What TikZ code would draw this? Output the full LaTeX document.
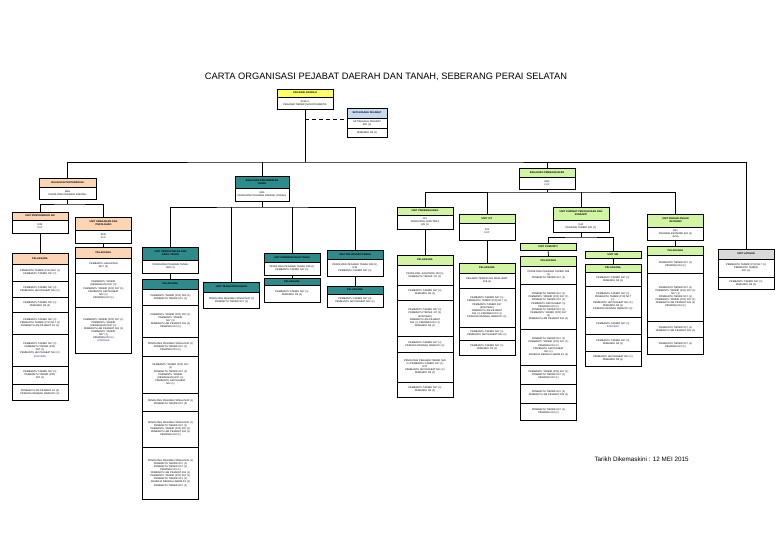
\documentclass[tikz,border=0pt]{standalone}
\usepackage{fontspec}
\setmainfont{Liberation Sans}
\usepackage{xcolor}
\usetikzlibrary{positioning}
\definecolor{kuning}{HTML}{FFFF66}
\definecolor{biru}{HTML}{C6DBF0}
\definecolor{jingga}{HTML}{FCD5B4}
\definecolor{teal}{HTML}{2E8B8B}
\definecolor{hijau}{HTML}{D2F5A3}
\definecolor{kelabu}{HTML}{D9D9D9}
\definecolor{navy}{HTML}{1F2A8A}
\tikzset{
  cell/.style={draw, line width=0.6pt, fill=white, minimum width=#1, text width=50pt, inner sep=0.4pt, outer sep=0pt, align=center, anchor=north, font=\fontsize{2.5}{3.1}\selectfont},
  cell/.default=56,
  head/.style={cell, fill=#1, font=\fontsize{2.5}{3.1}\selectfont\bfseries},
  line/.style={line width=0.7pt}
}
\begin{document}
\begin{tikzpicture}[x=1pt, y=-1pt]
\useasboundingbox (0,0) rectangle (780,540);
% tajuk
\node[font=\fontsize{9.3}{10}\selectfont] (tajuk) at (386,77) {CARTA ORGANISASI PEJABAT DAERAH DAN TANAH, SEBERANG  PERAI SELATAN};

% pegawai daerah
\node[head=kuning, minimum height=8] (pd) at (305,89) {PEGAWAI DAERAH};
\node[cell, minimum height=12, below=0pt of pd] (pdb) {JUSA C \\ PEGAWAI TADBIR DAN DIPLOMATIK};
\node[head=biru, minimum width=40, text width=36pt, minimum height=10] (sp) at (367,108) {SETIAUSAHA PEJABAT};
\node[cell=40, text width=36pt, minimum height=10, below=0pt of sp] (sp1) {SETIAUSAHA PEJABAT \\ N27 (1)};
\node[cell=40, text width=36pt, minimum height=9, below=0pt of sp1] (sp2) {PEMANDU R3 (1)};
\coordinate (sek) at (305,119);
\coordinate (bas) at (305,162);
\draw[line] (pdb.south) -- (bas);
\draw[line, dash pattern=on 4pt off 3pt] (sek) -- (sek -| sp.west);

% bahagian pentadbiran
\node[head=jingga, minimum width=57, minimum height=9] (ppt) at (67.5,178) {BAHAGIAN PENTADBIRAN};
\node[cell=57, minimum height=12, below=0pt of ppt] (pptb) {M48 \\ PENOLONG PEGAWAI DAERAH};
\node[head=jingga, minimum height=8] (o1) at (40,212) {UNIT PENTADBIRAN AM};
\node[cell, minimum height=13, below=0pt of o1] (o1b) {N32 \\ \textcolor{navy}{KUP}};
\node[head=jingga, minimum height=13] (o2) at (103.5,217) {UNIT KEWANGAN DAN \\ PEROLEHAN};
\node[cell, minimum height=13, below=0pt of o2] (o2b) {W32 \\ \textcolor{navy}{KUP}};
\coordinate (obas) at (67.5,204);
\draw[line] (pptb.south) -- (obas);
\draw[line] (o1.north) |- (obas) -| (o2.north);

\node[head=jingga, minimum height=11] (o1u) at (40,253) {PELAKSANA};
\node[cell, minimum height=17, below=0pt of o1u] (o1u1) {PEMBANTU TADBIR (P/O) N22 (1) \\ PEMBANTU TADBIR N17 (1)};
\node[cell, minimum height=16, below=0pt of o1u1] (o1u2) {PEMBANTU TADBIR N17 (2) \\ PEMBANTU AM PEJABAT N11 (1)};
\node[cell, minimum height=15, below=0pt of o1u2] (o1u3) {PEMBANTU TADBIR N17 (1) \\ PEMANDU R3 (2)};
\node[cell, minimum height=22, below=0pt of o1u3] (o1u4) {PEMBANTU TADBIR N17 (1) \\ PEMBANTU TADBIR (P/O) N17 (1) \\ PEMBANTU AM PEJABAT N1 (1)};
\node[cell, minimum height=32, below=0pt of o1u4] (o1u5) {PEMBANTU TADBIR N17 (1) \\ PEMBANTU TADBIR (P/O) \\ N17 (1) \\ PEMBANTU AM PEJABAT N11 (1) \\ \textcolor{navy}{KONTRAK}};
\node[cell, minimum height=18, below=0pt of o1u5] (o1u6) {PEMBANTU TADBIR N17 (1) \\ PEMBANTU TADBIR (P/O) \\ N17 (1)};
\node[cell, minimum height=16, below=0pt of o1u6] (o1u7) {PEMBANTU AM PEJABAT N1 (2) \\ PEKERJA RENDAH AWAM R1 (1)};
\draw[line] (o1b.south) -- (o1u.north);

\node[head=jingga, minimum height=11] (o2u) at (103.5,247) {PELAKSANA};
\node[cell, minimum height=15, below=0pt of o2u] (o2u1) {PEMBANTU AKAUNTAN \\ W17 (2)};
\node[cell, minimum height=34, below=0pt of o2u1] (o2u2) {PEMBANTU TADBIR \\ (KEWANGAN) W17 (2) \\ PEMBANTU TADBIR (P/O) N17 (1) \\ PEMBANTU AM PEJABAT \\ N11 (1) \\ PEMANDU R3 (1)};
\node[cell, minimum height=46, below=0pt of o2u2] (o2u3) {PEMBANTU TADBIR (P/O) N17 (1) \\ PEMBANTU TADBIR \\ (KEWANGAN) W17 (1) \\ PEMBANTU AM PEJABAT N11 (1) \\ PEMBANTU TADBIR \\ N17 (1) \\ PEMANDU R3 (1) \\ \textcolor{navy}{KONTRAK}};
\draw[line] (o2b.south) -- (o2u.north);

% bahagian tanah
\node[head=teal, minimum width=54, minimum height=12] (tk) at (262,176) {BAHAGIAN PENTADBIRAN \\ TANAH};
\node[cell=54, minimum height=13, below=0pt of tk] (tkb) {M44 \\ PENOLONG PEGAWAI DAERAH (TANAH)};
\coordinate (tbas) at (262,207);
\draw[line] (tkb.south) -- (tbas);

\node[head=teal, minimum height=13] (ta) at (170.5,247) {UNIT PENDAFTARAN DAN \\ HASIL TANAH};
\node[cell, minimum height=13, below=0pt of ta] (tab) {PENOLONG PEGAWAI TANAH \\ N32 (1)};
\node[head=teal, minimum height=10] (tau) at (170.5,279) {PELAKSANA};
\node[cell, minimum height=16, below=0pt of tau] (tau1) {PEMBANTU TADBIR (P/O) N22 (1) \\ PEMBANTU TADBIR N17 (1)};
\node[cell, minimum height=32, below=0pt of tau1] (tau2) {PEMBANTU TADBIR (P/O) N17 (1) \\ PEMBANTU TADBIR \\ N17 (2) \\ PEMBANTU AM PEJABAT N11 (1) \\ PEMANDU R3 (1)};
\node[cell, minimum height=19, below=0pt of tau2] (tau3) {PENOLONG PEGAWAI TANAH N29 (1) \\ PEMBANTU TADBIR N17 (1) \\ PEMANDU R3 (1)};
\node[cell, minimum height=37, below=0pt of tau3] (tau4) {PEMBANTU TADBIR (P/O) N17 \\ (1) \\ PEMBANTU TADBIR N17 (1) \\ PEMBANTU TADBIR \\ (KEWANGAN) W17 (1) \\ PEMBANTU AM PEJABAT \\ N11 (1)};
\node[cell, minimum height=18, below=0pt of tau4] (tau5) {PENOLONG PEGAWAI TANAH N29 (1) \\ PEMBANTU TADBIR N17 (2)};
\node[cell, minimum height=36, below=0pt of tau5] (tau6) {PENOLONG PEGAWAI TANAH N29 (1) \\ PEMBANTU TADBIR N17 (1) \\ PEMBANTU TADBIR (P/O) N17 (1) \\ PEMBANTU AM PEJABAT N11 (1) \\ PEMANDU R3 (1)};
\node[cell, minimum height=52, below=0pt of tau6] (tau7) {PENOLONG PEGAWAI TANAH N29 (1) \\ PEMBANTU TADBIR N17 (1) \\ PEMBANTU TADBIR N17 (1) \\ PEMANDU R3 (1) \\ PEMBANTU AM PEJABAT N11 (1) \\ PEMBANTU TADBIR (P/O) N17 (1) \\ PEMBANTU TADBIR N17 (1) \\ PEKERJA RENDAH AWAM R1 (1) \\ PEMBANTU TADBIR N17 (1)};
\draw[line] (tab.south) -- (tau.north);

\node[head=teal, minimum height=10] (tb) at (231.5,282) {UNIT PENGUATKUASAAN};
\node[cell, minimum height=16, below=0pt of tb] (tbb) {PENOLONG PEGAWAI TANAH N29 (1) \\ PEMBANTU TADBIR N17 (1)};

\node[head=teal, minimum height=9] (tc) at (292,253) {UNIT PEMBANGUNAN TANAH};
\node[cell, minimum height=13, below=0pt of tc] (tcb) {PENOLONG PEGAWAI TANAH N29 (1) \\ PEMBANTU TADBIR N17 (1)};
\node[head=teal, minimum height=7] (tcu) at (292,278) {PELAKSANA};
\node[cell, minimum height=17, below=0pt of tcu] (tcu1) {PEMBANTU TADBIR N17 (1) \\ PEMANDU R3 (1)};
\draw[line] (tcb.south) -- (tcu.north);

\node[head=teal, minimum height=9] (td) at (355,250) {UNIT PELUPUSAN TANAH};
\node[cell, minimum height=17, below=0pt of td] (tdb) {PENOLONG PEGAWAI TANAH N29 (1) \\ N32 \\ PEMBANTU TADBIR N17 (1)};
\node[head=teal, minimum height=8] (tdu) at (355,286) {PELAKSANA};
\node[cell, minimum height=13, below=0pt of tdu] (tdu1) {PEMBANTU TADBIR N17 (2) \\ PEMBANTU AM PEJABAT N11 (1)};
\draw[line] (tdb.south) -- (tdu.north);

\draw[line] (ta.north) |- (tbas) -| (td.north);
\draw[line] (tb.north) -- (tb.north |- tbas);
\draw[line] (tc.north) -- (tc.north |- tbas);

% bahagian pembangunan
\node[head=hijau, minimum height=9] (gk) at (547,168) {BAHAGIAN PEMBANGUNAN};
\node[cell, minimum height=12, below=0pt of gk] (gkb) {M44 \\ \textcolor{navy}{KUP}};
\coordinate (gbas) at (547,192);
\draw[line] (gkb.south) -- (gbas);

\node[head=hijau, minimum height=8] (g1) at (425,207) {UNIT PEMBANGUNAN};
\node[cell, minimum height=14, below=0pt of g1] (g1b) {J41 \\ PENOLONG JURUTERA \\ J29 (1)};
\node[head=hijau, minimum height=10] (g1u) at (425,255) {PELAKSANA};
\node[cell, minimum height=20, below=0pt of g1u] (g1u1) {PENOLONG JURUTERA J29 (1) \\ PEMBANTU TEKNIK J17 (1)};
\node[cell, minimum height=15, below=0pt of g1u1] (g1u2) {PEMBANTU TADBIR N17 (1) \\ PEMANDU R3 (1)};
\node[cell, minimum height=36, below=0pt of g1u2] (g1u3) {PEMBANTU TADBIR N17 (1) \\ PEMBANTU TEKNIK J17 (1) \\ (KONTRAK) \\ PEMBANTU AM PEJABAT \\ N11 (1) PEMANDU R3 (1) \\ PEMANDU R3 (1)};
\node[cell, minimum height=16, below=0pt of g1u3] (g1u4) {PEMBANTU TADBIR N17 (1) \\ PEKERJA RENDAH AWAM R1 (1)};
\node[cell, minimum height=30, below=0pt of g1u4] (g1u5) {PENOLONG PEGAWAI TADBIR N29 \\ (1) PEMBANTU TADBIR N17 (1) \\ N17 \\ PEMBANTU AM PEJABAT N11 (1) \\ PEMANDU R3 (1)};
\node[cell, minimum height=15, below=0pt of g1u5] (g1u6) {PEMBANTU TADBIR N17 (1) \\ PEMANDU R3 (1)};
\draw[line] (g1b.south) -- (g1u.north);

\node[head=hijau, minimum height=9] (g2) at (487,214) {UNIT ICT};
\node[cell, minimum height=17, below=0pt of g2] (g2b) {F41 \\ \textcolor{navy}{KUP}};
\node[head=hijau, minimum height=10] (g2u) at (487,263) {PELAKSANA};
\node[cell, minimum height=15, below=0pt of g2u] (g2u1) {PEGAWAI TEKNOLOGI MAKLUMAT \\ F29 (1)};
\node[cell, minimum height=39, below=0pt of g2u1] (g2u2) {PEMBANTU TADBIR N17 (1) \\ PEMBANTU TADBIR (P/O) N17 (1) \\ PEMBANTU TADBIR N17 \\ (KONTRAK) \\ PEMBANTU AM PEJABAT \\ N11 (1) PEMANDU R3 (1) \\ PEKERJA RENDAH AWAM R1 (1)};
\node[cell, minimum height=13, below=0pt of g2u2] (g2u3) {PEMBANTU TADBIR N17 (1) \\ PEMBANTU AM PEJABAT N11 (1)};
\node[cell, minimum height=15, below=0pt of g2u3] (g2u4) {PEMBANTU TADBIR N17 (1) \\ PEMANDU R3 (1)};
\draw[line] (g2b.south) -- (g2u.north);

\node[head=hijau, minimum height=13] (g3) at (581,207) {UNIT KHIDMAT PENGURUSAN DAN \\ KOMUNITI};
\node[cell, minimum height=12, below=0pt of g3] (g3b) {N41 \\ PEGAWAI TADBIR N41 (1)};
\coordinate (g3bas) at (581,237);
\draw[line] (g3b.south) -- (g3bas);
\node[head=hijau, minimum height=7] (g3l) at (548,243) {UNIT KOMUNITI};
\node[head=hijau, minimum height=10] (g3lu) at (548.5,256) {PELAKSANA};
\node[cell, minimum height=18, below=0pt of g3lu] (g3lu1) {PENOLONG PEGAWAI TADBIR N29 \\ (1) \\ PEMBANTU TADBIR N17 (1)};
\node[cell, minimum height=45, below=0pt of g3lu1] (g3lu2) {PEMBANTU TADBIR N17 (1) \\ PEMBANTU TADBIR (P/O) N17 (1) \\ PEMBANTU TADBIR N17 (1) \\ PEMBANTU AM PEJABAT (1) \\ PEMANDU R3 (1) \\ PEMBANTU TADBIR N17 (1) \\ PEMBANTU TADBIR (P/O) N17 \\ (1) \\ PEMBANTU AM PEJABAT N11 (1)};
\node[cell, minimum height=36, below=0pt of g3lu2] (g3lu3) {PEMBANTU TADBIR N17 (1) \\ PEMBANTU TADBIR (P/O) N17 (1) \\ PEMANDU R3 (1) \\ PEMBANTU AM PEJABAT \\ N11 (1) \\ PEKERJA RENDAH AWAM R1 (1)};
\node[cell, minimum height=19, below=0pt of g3lu3] (g3lu4) {PEMBANTU TADBIR (P/O) N17 (1) \\ PEMBANTU TADBIR N17 (1) \\ PEMANDU R3 (1)};
\node[cell, minimum height=19, below=0pt of g3lu4] (g3lu5) {PEMBANTU TADBIR N17 (1) \\ PEMBANTU AM PEJABAT N11 (1)};
\node[cell, minimum height=17, below=0pt of g3lu5] (g3lu6) {PEMBANTU TADBIR N17 (1) \\ PEMANDU R3 (1)};
\draw[line] (g3l.south) -- (g3lu.north);

\node[head=hijau, minimum height=7] (g3r) at (613,251) {UNIT AM};
\node[head=hijau, minimum height=8] (g3ru) at (613,264) {PELAKSANA};
\node[cell, minimum height=14, below=0pt of g3ru] (g3ru1) {PEMBANTU TADBIR N17 (1) \\ PEMANDU R3 (1)};
\node[cell, minimum height=31, below=0pt of g3ru1] (g3ru2) {PEMBANTU TADBIR N17 (1) \\ PEMBANTU TADBIR (P/O) N17 \\ (1) \\ PEMBANTU AM PEJABAT N11 (1) \\ PEMANDU R3 (1) \\ PEKERJA RENDAH AWAM R1 (1)};
\node[cell, minimum height=17, below=0pt of g3ru2] (g3ru3) {PEMBANTU TADBIR N17 (1) \\ \textcolor{navy}{KONTRAK}};
\node[cell, minimum height=17, below=0pt of g3ru3] (g3ru4) {PEMBANTU TADBIR N17 (1) \\ PEMANDU R3 (1)};
\node[cell, minimum height=15, below=0pt of g3ru4] (g3ru5) {PEMBANTU AM PEJABAT N11 (1) \\ PEMANDU R3 (1)};
\draw[line] (g3r.south) -- (g3ru.north);
\draw[line] (g3l.north) |- (g3bas) -| (g3r.north);

\node[head=hijau, minimum height=13] (g4) at (675.5,214) {UNIT PERANCANGAN \\ EKONOMI};
\node[cell, minimum height=13, below=0pt of g4] (g4b) {E41 \\ PEGAWAI EKONOMI E41 (1) \\ JUSA};
\node[head=hijau, minimum height=9] (g4u) at (675.5,246) {PELAKSANA};
\node[cell, minimum height=18, below=0pt of g4u] (g4u1) {PEMBANTU TADBIR N17 (1) \\ PEMANDU R3 (1)};
\node[cell, minimum height=48, below=0pt of g4u1] (g4u2) {PEMBANTU TADBIR N17 (1) \\ PEMBANTU TADBIR (P/O) N17 (1) \\ N17 (1) \\ PEMBANTU TADBIR N17 (1) \\ PEMBANTU TADBIR (P/O) N17 (1) \\ PEMBANTU AM PEJABAT N11 (1) \\ PEMANDU R3 (1)};
\node[cell, minimum height=16, below=0pt of g4u2] (g4u3) {PEMBANTU TADBIR N17 (1) \\ PEMBANTU AM PEJABAT N11 (1)};
\node[cell, minimum height=17, below=0pt of g4u3] (g4u4) {PEMBANTU TADBIR N17 (1) \\ PEMANDU R3 (1)};
\draw[line] (g4b.south) -- (g4u.north);

\draw[line] (g1.north) |- (gbas) -| (g4.north);
\draw[line] (g2.north) -- (g2.north |- gbas);
\draw[line] (g3.north) -- (g3.north |- gbas);

% unit latihan
\node[head=kelabu, minimum height=10] (kl) at (746,249) {UNIT LATIHAN};
\node[cell, minimum height=18, below=0pt of kl] (kl1) {PEMBANTU TADBIR (P/O) N17 (1) \\ PEMBANTU TADBIR \\ N17 (1)};
\node[cell, minimum height=12, below=0pt of kl1] (kl2) {PEMBANTU TADBIR N17 (1) \\ PEMANDU R3 (1)};

% garisan utama
\draw[line] (ppt.north) |- (bas) -| (kl.north);
\draw[line] (tk.north) -- (tk.north |- bas);
\draw[line] (gk.north) -- (gk.north |- bas);

\node[anchor=west, font=\fontsize{6.3}{7}\selectfont] (tarikh) at (591,459) {Tarikh Dikemaskini : 12 MEI 2015};
\end{tikzpicture}
\end{document}
